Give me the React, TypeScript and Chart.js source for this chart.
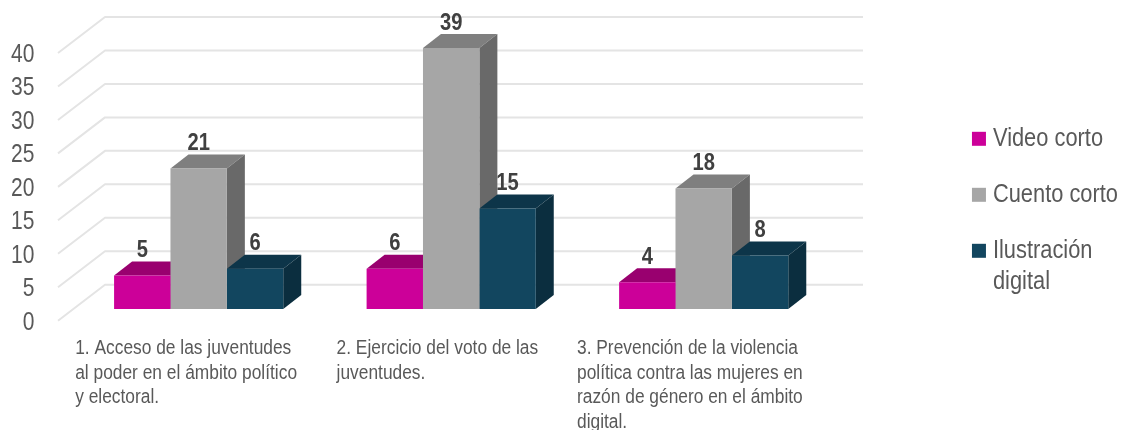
import React, { useEffect, useRef } from "react";
import { Chart, registerables } from "chart.js";

Chart.register(...registerables);

const categories = [
  ["1. Acceso de las juventudes", "al poder en el ámbito político", "y electoral."],
  ["2. Ejercicio del voto de las", "juventudes."],
  ["3. Prevención de la violencia", "política contra las mujeres en", "razón de género en el ámbito", "digital."],
];
const videoCorto = [5, 6, 4];
const cuentoCorto = [21, 39, 18];
const ilustracionDigital = [6, 15, 8];

const FONT = '"Liberation Sans", Arial, sans-serif';
const TEXT = "#595959";
const labelShift = [-123.5, -114.6, -126.7];
const shades = [
  { front: "#CC0099", top: "#99006F", side: "#7F005F" },
  { front: "#A6A6A6", top: "#7F7F7F", side: "#696969" },
  { front: "#12465F", top: "#0D3549", side: "#0B2E3F" },
];
const LIFT = 11.7;
const DX = 18;
const DY = 14;

function condense(ctx: any) {
  const fill = ctx.fillText.bind(ctx);
  const measure = ctx.measureText.bind(ctx);
  const factor = () => (parseFloat(String(ctx.font).match(/([\d.]+)px/)?.[1] || "20") < 22 ? 0.89 : 0.84);
  ctx.fillText = (t: string, x: number, y: number) => {
    const f = factor();
    ctx.save();
    ctx.translate(x, y);
    ctx.scale(f, 1);
    fill(t, 0, 0);
    ctx.restore();
  };
  ctx.measureText = (t: string) => {
    const m = measure(t);
    return { width: m.width * factor(), actualBoundingBoxAscent: m.actualBoundingBoxAscent, actualBoundingBoxDescent: m.actualBoundingBoxDescent };
  };
}

const bars3d = {
  id: "bars3d",
  afterLayout(chart: any) {
    chart.scales.x.bottom = chart.height;
    chart.legend.left += 6;
    chart.legend.right += 6;
  },
  beforeDatasetsDraw(chart: any) {
    const { ctx, scales } = chart;
    const y = scales.y;
    ctx.save();
    ctx.strokeStyle = "#E4E4E4";
    ctx.lineWidth = 2;
    ctx.lineJoin = "round";
    y.ticks.forEach((t: any) => {
      const p = y.getPixelForValue(t.value);
      ctx.beginPath();
      ctx.moveTo(58, p);
      ctx.lineTo(105, p - 36);
      ctx.lineTo(863, p - 36);
      ctx.stroke();
    });
    ctx.restore();
    ctx.save();
    ctx.translate(0, -LIFT);
    chart.data.datasets.forEach((_: any, i: number) => {
      const c = shades[i];
      chart.getDatasetMeta(i).data.forEach((b: any) => {
        const l = b.x - b.width / 2;
        const r = b.x + b.width / 2;
        ctx.fillStyle = c.top;
        ctx.beginPath();
        ctx.moveTo(l, b.y);
        ctx.lineTo(l + DX, b.y - DY);
        ctx.lineTo(r + DX, b.y - DY);
        ctx.lineTo(r, b.y);
        ctx.closePath();
        ctx.fill();
        ctx.fillStyle = c.side;
        ctx.beginPath();
        ctx.moveTo(r, b.y);
        ctx.lineTo(r + DX, b.y - DY);
        ctx.lineTo(r + DX, b.base - DY);
        ctx.lineTo(r, b.base);
        ctx.closePath();
        ctx.fill();
      });
    });
  },
  afterDatasetsDraw(chart: any) {
    const { ctx } = chart;
    ctx.restore();
    ctx.save();
    ctx.fillStyle = "#404040";
    ctx.font = `bold 24px ${FONT}`;
    ctx.textAlign = "center";
    ctx.textBaseline = "middle";
    chart.data.datasets.forEach((ds: any, i: number) => {
      chart.getDatasetMeta(i).data.forEach((b: any, j: number) => {
        ctx.fillText(String(ds.data[j]), b.x, b.y - LIFT - 25);
      });
    });
    ctx.restore();
  },
};

export default function App() {
  const ref = useRef<HTMLCanvasElement>(null);
  useEffect(() => {
    condense(ref.current!.getContext("2d"));
    const chart = new Chart(ref.current as any, {
      type: "bar",
      plugins: [bars3d],
      data: {
        labels: categories as any,
        datasets: [
          { label: "Video corto", data: videoCorto, backgroundColor: shades[0].front },
          { label: "Cuento corto", data: cuentoCorto, backgroundColor: shades[1].front },
          { label: "Ilustración digital", data: ilustracionDigital, backgroundColor: shades[2].front },
        ],
      },
      options: {
        animation: false,
        responsive: false,
        layout: { padding: { top: 51, bottom: 55, left: 0, right: 0 } },
        datasets: { bar: { categoryPercentage: 0.7036, barPercentage: 1, clip: false as any } },
        plugins: {
          tooltip: { enabled: false },
          legend: {
            position: "right",
            align: "center",
            labels: {
              boxWidth: 2,
              boxHeight: 2,
              padding: 30,
              color: TEXT,
              font: { family: FONT, size: 26, lineHeight: 1.2 },
              generateLabels: (c: any) =>
                c.data.datasets.map((d: any, i: number) => ({
                  text: i === 2 ? ["Ilustración", "digital"] : d.label,
                  fillStyle: d.backgroundColor,
                  strokeStyle: d.backgroundColor,
                  fontColor: TEXT,
                  lineWidth: 12,
                  lineJoin: "miter",
                  datasetIndex: i,
                })),
            },
          },
        },
        scales: {
          x: {
            grid: { display: false, drawTicks: false },
            border: { display: false },
            afterFit: (s: any) => {
              s.height = 54.3;
            },
            afterBuildTicks: (s: any) => {
              const orig = s.getPixelForTick.bind(s);
              s.getPixelForTick = (i: number) => orig(i) + labelShift[i];
            },
            ticks: {
              autoSkip: false,
              maxRotation: 0,
              minRotation: 0,
              align: "start",
              padding: 15,
              color: TEXT,
              font: { family: FONT, size: 19.5, lineHeight: 1.28 },
            },
          },
          y: {
            min: 0,
            max: 40,
            grid: { display: false, drawTicks: false },
            border: { display: false },
            afterFit: (s: any) => {
              s.width = 72.4;
            },
            ticks: {
              stepSize: 5,
              padding: 38,
              labelOffset: 2,
              color: TEXT,
              font: { family: FONT, size: 25 },
            },
          },
          gap: {
            position: "right",
            grid: { display: false },
            border: { display: false },
            ticks: { display: false },
            afterFit: (s: any) => {
              s.width = 112;
            },
          },
        },
      } as any,
    });
    return () => chart.destroy();
  }, []);
  return (
    <div style={{ position: "absolute", left: 0, top: 0, width: 1122, height: 430, background: "#fff" }}>
      <canvas ref={ref} width={1122} height={430} style={{ display: "block" }} />
    </div>
  );
}
